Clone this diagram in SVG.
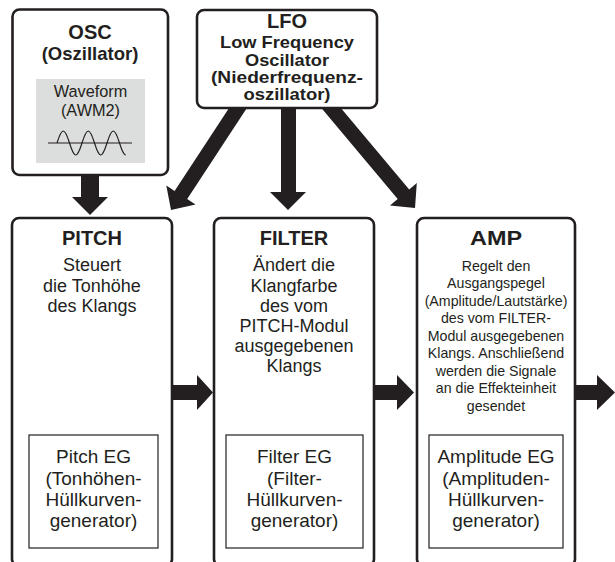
<svg xmlns="http://www.w3.org/2000/svg" width="615" height="562" viewBox="0 0 615 562">
<style>
  .box { fill: #ffffff; stroke: #231f20; stroke-width: 2.6; }
  .inner { fill: #ffffff; stroke: #231f20; stroke-width: 1.2; }
  .arrow { fill: #231f20; stroke: none; }
  text { font-family: "Liberation Sans", Arial, Helvetica, sans-serif; fill: #231f20; text-anchor: middle; }
  .title { font-weight: bold; font-size: 20px; }
  .sub { font-weight: bold; font-size: 18.5px; }
  .lfo { font-weight: bold; font-size: 16.5px; }
  .desc { font-size: 18px; }
  .small { font-size: 14.2px; }
  .eg { font-size: 19px; }
  .wave { font-size: 16.3px; }
</style>
<rect width="615" height="562" fill="#ffffff"/>
<g id="connectors">
  <!-- OSC -> PITCH -->
  <polygon class="arrow" points="81,170 99,170 99,197 108,197 90,215 72,197 81,197"/>
  <!-- LFO -> PITCH -->
  <polygon class="arrow" points="246.9,108.1 187.2,199.1 195.5,204.6 171,210 166.3,185.4 174.6,190.9 234.3,99.9"/>
  <!-- LFO -> FILTER -->
  <polygon class="arrow" points="281,104 296,104 296,192 306,192 288,210 270,192 281,192"/>
  <!-- LFO -> AMP -->
  <polygon class="arrow" points="333.5,99.2 409.2,189.4 416.8,183 415,208 390,205.5 397.7,199 322,108.8"/>
  <!-- PITCH -> FILTER -->
  <polygon class="arrow" points="170,385 197,385 197,375 213,392.5 197,410 197,400 170,400"/>
  <!-- FILTER -> AMP -->
  <polygon class="arrow" points="372,385 397,385 397,375 414,392.5 397,410 397,400 372,400"/>
  <!-- AMP -> out -->
  <polygon class="arrow" points="573,385 597,385 597,375 615,392.5 597,410 597,400 573,400"/>
</g>
<g id="osc">
  <rect class="box" x="12.5" y="9.5" width="155.5" height="165.5" rx="7"/>
  <text class="title" x="90" y="39">OSC</text>
  <text class="sub" x="90" y="60">(Oszillator)</text>
  <rect x="36" y="79" width="109" height="84" fill="#dcdddd"/>
  <text class="wave" x="90.5" y="97">Waveform</text>
  <text class="wave" x="90.5" y="115.5">(AWM2)</text>
  <line x1="48" y1="143" x2="132" y2="143" stroke="#231f20" stroke-width="1.2"/>
  <path fill="none" stroke="#231f20" stroke-width="1.2" d="M57,143 C59.5,135 62,131 63.25,131 C64.5,131 67,135 69.5,143 C72,151 74.5,155 75.75,155 C77,155 79.5,151 82,143 C84.5,135 87,131 88.25,131 C89.5,131 92,135 94.5,143 C97,151 99.5,155 100.75,155 C102,155 104.5,151 107,143 C109.5,135 112,131 113.25,131 C114.5,131 117,135 119.5,143 C122,151 124.5,155 125.75,155"/>
</g>
<g id="lfo">
  <rect class="box" x="197" y="10" width="180" height="98" rx="7"/>
  <text class="title" x="287" y="28">LFO</text>
  <text class="lfo" x="287" y="48" textLength="134" lengthAdjust="spacingAndGlyphs">Low Frequency</text>
  <text class="lfo" x="287" y="65.5" textLength="84" lengthAdjust="spacingAndGlyphs">Oscillator</text>
  <text class="lfo" x="287" y="83" textLength="152" lengthAdjust="spacingAndGlyphs">(Niederfrequenz-</text>
  <text class="lfo" x="287" y="100" textLength="87" lengthAdjust="spacingAndGlyphs">oszillator)</text>
</g>
<g id="pitch">
  <rect class="box" x="12" y="218" width="160" height="348" rx="7"/>
  <text class="title" x="92" y="245">PITCH</text>
  <text class="desc" x="92" y="271">Steuert</text>
  <text class="desc" x="92" y="291.5">die Tonhöhe</text>
  <text class="desc" x="92" y="312">des Klangs</text>
  <rect class="inner" x="29" y="435" width="129" height="113"/>
  <text class="eg" x="93.5" y="463">Pitch EG</text>
  <text class="eg" x="93.5" y="485">(Tonhöhen-</text>
  <text class="eg" x="93.5" y="506">Hüllkurven-</text>
  <text class="eg" x="93.5" y="527">generator)</text>
</g>
<g id="filter">
  <rect class="box" x="214" y="218" width="160" height="348" rx="7"/>
  <text class="title" x="294" y="245">FILTER</text>
  <text class="desc" x="294" y="271">Ändert die</text>
  <text class="desc" x="294" y="291.5">Klangfarbe</text>
  <text class="desc" x="294" y="311.5">des vom</text>
  <text class="desc" x="294" y="331.5">PITCH-Modul</text>
  <text class="desc" x="294" y="351.5">ausgegebenen</text>
  <text class="desc" x="294" y="371.5">Klangs</text>
  <rect class="inner" x="226" y="435" width="137" height="113"/>
  <text class="eg" x="294.5" y="463">Filter EG</text>
  <text class="eg" x="294.5" y="485">(Filter-</text>
  <text class="eg" x="294.5" y="506">Hüllkurven-</text>
  <text class="eg" x="294.5" y="527">generator)</text>
</g>
<g id="amp">
  <rect class="box" x="417" y="218" width="158" height="348" rx="7"/>
  <text class="title" x="496" y="245" textLength="52" lengthAdjust="spacingAndGlyphs">AMP</text>
  <text class="small" x="496" y="270.5">Regelt den</text>
  <text class="small" x="496" y="288">Ausgangspegel</text>
  <text class="small" x="496" y="305.5">(Amplitude/Lautstärke)</text>
  <text class="small" x="496" y="323">des vom FILTER-</text>
  <text class="small" x="496" y="340.5">Modul ausgegebenen</text>
  <text class="small" x="496" y="358">Klangs. Anschließend</text>
  <text class="small" x="496" y="375.5">werden die Signale</text>
  <text class="small" x="496" y="393">an die Effekteinheit</text>
  <text class="small" x="496" y="410.5">gesendet</text>
  <rect class="inner" x="429" y="435" width="134" height="113"/>
  <text class="eg" x="496" y="463">Amplitude EG</text>
  <text class="eg" x="496" y="485">(Amplituden-</text>
  <text class="eg" x="496" y="506">Hüllkurven-</text>
  <text class="eg" x="496" y="527">generator)</text>
</g>
</svg>
